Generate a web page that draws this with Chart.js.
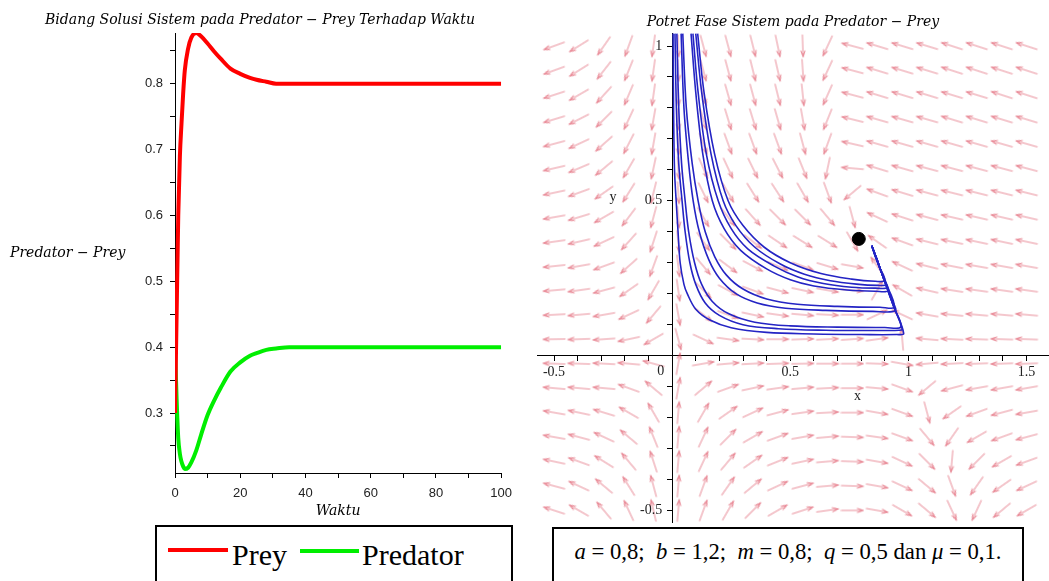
<!DOCTYPE html>
<html>
<head>
<meta charset="utf-8">
<script src="https://cdn.jsdelivr.net/npm/chart.js@4.4.1/dist/chart.umd.min.js"></script>
<style>
  body { margin: 0; background: #fff; width: 1049px; height: 581px; overflow: hidden; position: relative; }
  #leftBox { position: absolute; left: 0; top: 0; width: 520px; height: 520px; }
  #rightBox { position: absolute; left: 520px; top: 0; width: 536px; height: 530px; }
  .box { position: absolute; border: 2px solid #000; background: #fff; }
  #legendBox { left: 155px; top: 525px; width: 354px; height: 70px; }
  #paramBox { left: 552px; top: 527px; width: 468px; height: 70px; }
  .swatch { position: absolute; height: 4px; }
  .lab { position: absolute; font-family: "Liberation Serif", serif; font-size: 30px; line-height: 30px; color: #000; }
  #params { position: absolute; left: 0; right: 0; top: 10px; text-align: center; font-family: "Liberation Serif", serif; font-size: 22.7px; color: #000; white-space: nowrap; }
  #params i { font-style: italic; }
</style>
</head>
<body>
<div id="leftBox"><canvas id="solChart" width="520" height="520"></canvas></div>
<div id="rightBox"><canvas id="phaseChart" width="536" height="530"></canvas></div>
<div id="legendBox" class="box">
  <span class="swatch" style="left:11px;top:21px;width:60px;background:#ff0000"></span>
  <span class="lab" style="left:75px;top:13px">Prey</span>
  <span class="swatch" style="left:143px;top:22px;width:59px;background:#00ee00"></span>
  <span class="lab" style="left:205px;top:13px">Predator</span>
</div>
<div id="paramBox" class="box">
  <div id="params"><i>a</i> = 0,8; &nbsp;<i>b</i> = 1,2; &nbsp;<i>m</i> = 0,8; &nbsp;<i>q</i> = 0,5 dan <i>μ</i> = 0,1.</div>
</div>
<script>
// ---- time series (left) ----
const timeValues = [0, 0.5, 1, 1.5, 2, 2.5, 3, 4, 5, 6.5, 8, 10, 12, 14, 17, 20, 23, 25, 28, 31, 35, 40, 60, 80, 100];
const preyValues = [0.3, 0.45, 0.6, 0.69, 0.74, 0.785, 0.82, 0.853, 0.87, 0.877, 0.872, 0.861, 0.849, 0.838, 0.823, 0.815, 0.809, 0.806, 0.803, 0.8, 0.8, 0.8, 0.8, 0.8, 0.8];
const predatorValues = [0.4, 0.321, 0.262, 0.238, 0.226, 0.219, 0.215, 0.217, 0.225, 0.243, 0.267, 0.297, 0.319, 0.338, 0.363, 0.377, 0.387, 0.391, 0.396, 0.398, 0.4, 0.4, 0.4, 0.4, 0.4];
const timeTicks = [0, 10, 20, 30, 40, 50, 60, 70, 80, 90, 100];
const timeLabels = ['0', '', '20', '', '40', '', '60', '', '80', '', '100'];
const solTicks = [0.25, 0.3, 0.35, 0.4, 0.45, 0.5, 0.55, 0.6, 0.65, 0.7, 0.75, 0.8, 0.85];
const solLabels = ['', '0.3', '', '0.4', '', '0.5', '', '0.6', '', '0.7', '', '0.8', ''];
const leftTitle = 'Bidang Solusi Sistem pada Predator \u2212 Prey Terhadap Waktu';

// ---- phase portrait (right) ----
const phaseXTicks = [-0.5, -0.4, -0.3, -0.2, -0.1, 0, 0.1, 0.2, 0.3, 0.4, 0.5, 0.6, 0.7, 0.8, 0.9, 1, 1.1, 1.2, 1.3, 1.4, 1.5];
const phaseXLabels = ['-0.5', '', '', '', '', '', '', '', '', '', '0.5', '', '', '', '', '1', '', '', '', '', '1.5'];
const phaseYTicks = [-0.5, -0.4, -0.3, -0.2, -0.1, 0, 0.1, 0.2, 0.3, 0.4, 0.5, 0.6, 0.7, 0.8, 0.9, 1];
const phaseYLabels = ['-0.5', '', '', '', '', '', '', '', '', '', '0.5', '', '', '', '', '1'];
const rightTitle = 'Potret Fase Sistem pada Predator \u2212 Prey';

const fieldX = [-0.5, -0.395, -0.289, -0.184, -0.079, 0.026, 0.132, 0.237, 0.342, 0.447, 0.553, 0.658, 0.763, 0.868, 0.974, 1.079, 1.184, 1.289, 1.395, 1.5];
const fieldY = [1.0, 0.921, 0.842, 0.763, 0.684, 0.605, 0.526, 0.447, 0.368, 0.289, 0.211, 0.132, 0.053, -0.026, -0.105, -0.184, -0.263, -0.342, -0.421, -0.5];
// arrow direction in degrees (0 = right, 90 = up), one row per fieldY value
const fieldAngles = [
  [200,212,235,250,262,272,285,285,284,282,272,245,165,163,163,163,162,162,162,162],
  [200,212,232,248,262,272,285,285,284,283,274,245,165,163,163,163,162,162,162,162],
  [198,210,228,247,262,272,286,286,285,284,276,246,165,163,163,163,163,163,162,162],
  [197,207,225,245,260,272,287,287,287,286,280,248,166,164,164,164,163,163,163,163],
  [195,205,222,243,260,273,290,290,290,290,285,250,167,164,164,164,164,164,164,164],
  [193,203,220,240,258,273,293,295,296,297,292,258,175,163,164,165,165,165,165,165],
  [192,200,215,238,256,274,296,300,302,303,300,290,220,160,163,165,166,166,166,166],
  [190,197,210,233,255,275,300,307,312,315,315,310,285,155,162,165,167,167,167,167],
  [188,193,205,228,252,276,305,315,322,326,328,328,300,145,160,166,168,168,168,168],
  [186,190,200,222,250,277,310,323,332,337,340,343,350,125,155,166,169,170,170,170],
  [185,188,195,215,240,278,315,332,340,345,348,350,355,60,150,167,171,172,172,172],
  [183,185,190,205,230,280,322,340,348,352,355,357,0,25,155,170,174,175,175,175],
  [181,182,184,192,210,285,335,352,357,0,2,3,4,8,95,175,177,178,178,178],
  [178,178,177,175,165,80,10,5,3,2,1,0,0,358,350,185,183,182,182,182],
  [175,175,175,160,140,80,40,20,12,8,5,3,0,355,340,220,195,190,190,190],
  [170,168,163,150,120,85,60,35,25,15,8,3,0,350,340,285,215,200,195,190],
  [170,165,155,140,112,85,65,45,30,20,10,5,358,352,340,310,235,210,200,195],
  [168,160,148,130,108,85,65,50,35,22,12,5,358,350,335,315,265,225,210,200],
  [165,155,140,122,105,85,70,55,40,25,15,5,358,350,335,320,290,235,215,205],
  [162,150,130,115,103,85,70,60,45,30,18,8,0,350,330,320,295,245,220,210]
];

// solution curves, [x, y]
const orbitA = [[0.004,1.04],[0.006,0.8],[0.01,0.6],[0.017,0.5],[0.025,0.4],[0.034,0.3],[0.05,0.23],[0.064,0.2],[0.1,0.15],[0.16,0.115],[0.25,0.09],[0.4,0.075],[0.6,0.07],[0.8,0.068],[0.95,0.068],[0.98,0.072],[0.937,0.16],[0.895,0.25],[0.867,0.31],[0.845,0.355]];
const orbitB = [[0.012,1.04],[0.018,0.8],[0.028,0.62],[0.042,0.5],[0.055,0.4],[0.075,0.3],[0.1,0.23],[0.14,0.17],[0.2,0.13],[0.3,0.1],[0.45,0.087],[0.65,0.082],[0.85,0.081],[0.96,0.082],[0.974,0.085],[0.937,0.16],[0.895,0.25],[0.867,0.31],[0.845,0.355]];
const orbitC = [[0.02,1.04],[0.028,0.8],[0.04,0.62],[0.055,0.5],[0.07,0.4],[0.095,0.3],[0.125,0.23],[0.17,0.175],[0.24,0.135],[0.35,0.108],[0.5,0.096],[0.7,0.092],[0.9,0.091],[0.968,0.093],[0.937,0.16],[0.895,0.25],[0.867,0.31],[0.845,0.355]];
const orbitD = [[0.038,1.04],[0.05,0.8],[0.07,0.62],[0.089,0.5],[0.115,0.4],[0.155,0.31],[0.2,0.25],[0.27,0.2],[0.36,0.17],[0.48,0.153],[0.65,0.146],[0.85,0.143],[0.945,0.145],[0.93,0.18],[0.895,0.25],[0.867,0.31],[0.845,0.355]];
const orbitE = [[0.045,1.04],[0.06,0.8],[0.085,0.62],[0.11,0.5],[0.14,0.4],[0.18,0.32],[0.23,0.26],[0.3,0.215],[0.4,0.183],[0.53,0.166],[0.7,0.159],[0.88,0.156],[0.94,0.158],[0.895,0.25],[0.867,0.31],[0.845,0.355]];
const orbitF = [[0.08,1.04],[0.1,0.85],[0.13,0.65],[0.17,0.5],[0.22,0.41],[0.29,0.34],[0.4,0.28],[0.5,0.245],[0.6,0.225],[0.74,0.212],[0.86,0.208],[0.915,0.21],[0.895,0.25],[0.867,0.31],[0.845,0.355]];
const orbitG = [[0.088,1.04],[0.11,0.85],[0.145,0.65],[0.195,0.5],[0.25,0.41],[0.32,0.345],[0.43,0.29],[0.53,0.255],[0.64,0.233],[0.76,0.221],[0.86,0.218],[0.91,0.22],[0.895,0.25],[0.867,0.31],[0.845,0.355]];
const orbitH = [[0.1,1.04],[0.125,0.85],[0.165,0.65],[0.216,0.5],[0.27,0.42],[0.35,0.35],[0.46,0.295],[0.56,0.263],[0.67,0.242],[0.78,0.231],[0.87,0.227],[0.905,0.23],[0.88,0.28],[0.86,0.32],[0.845,0.355]];
const orbitI = [[0.108,1.04],[0.135,0.85],[0.18,0.65],[0.237,0.5],[0.3,0.42],[0.39,0.35],[0.5,0.3],[0.63,0.265],[0.76,0.247],[0.86,0.24],[0.9,0.243],[0.875,0.29],[0.86,0.32],[0.845,0.355]];
const orbits = [orbitA, orbitB, orbitC, orbitD, orbitE, orbitF, orbitG, orbitH, orbitI];
const restPoint = [0.79, 0.377];

function makeArrow() {
  const c = document.createElement('canvas');
  c.width = 24;
  c.height = 10;
  const g = c.getContext('2d');
  g.strokeStyle = 'rgba(220,70,90,0.6)';
  g.lineWidth = 1.2;
  g.lineCap = 'round';
  g.beginPath();
  g.moveTo(1, 5); g.lineTo(23, 5);
  g.moveTo(23, 5); g.lineTo(17, 3);
  g.moveTo(23, 5); g.lineTo(17, 7);
  g.stroke();
  return c;
}

const leftText = {
  id: 'leftText',
  afterDraw(chart) {
    const { ctx, chartArea } = chart;
    ctx.save();
    ctx.fillStyle = '#000';
    ctx.font = 'italic 14px "DejaVu Serif"';
    ctx.textAlign = 'center';
    ctx.textBaseline = 'middle';
    ctx.fillText(leftTitle, chart.width / 2, 20);
    ctx.fillText('Waktu', (chartArea.left + chartArea.right) / 2, chartArea.bottom + 38);
    ctx.textAlign = 'left';
    ctx.fillText('Predator \u2212 Prey', 10, (chartArea.top + chartArea.bottom) / 2);
    ctx.restore();
  }
};

new Chart(document.getElementById('solChart'), {
  type: 'line',
  data: {
    datasets: [
      { label: 'Prey', data: timeValues.map((t, i) => ({ x: t, y: preyValues[i] })), borderColor: '#ff0000', borderWidth: 4, pointRadius: 0, cubicInterpolationMode: 'monotone' },
      { label: 'Predator', data: timeValues.map((t, i) => ({ x: t, y: predatorValues[i] })), borderColor: '#00ee00', borderWidth: 4, pointRadius: 0, cubicInterpolationMode: 'monotone' }
    ]
  },
  options: {
    responsive: false,
    animation: false,
    events: [],
    layout: { padding: { top: 33, right: 18, left: 0, bottom: 0 } },
    plugins: { legend: { display: false }, title: { display: false }, tooltip: { enabled: false } },
    scales: {
      x: {
        type: 'linear', min: 0, max: 100,
        afterBuildTicks: s => { s.ticks = timeTicks.map(v => ({ value: v })); },
        afterFit: s => { s.height = 47; },
        grid: { drawOnChartArea: false, tickLength: 5, color: '#000' },
        border: { color: '#000', width: 1 },
        ticks: { color: '#222', padding: 8, maxRotation: 0, autoSkip: false, font: { family: 'Liberation Sans', size: 13 },
                 callback: (v, i) => timeLabels[i] }
      },
      y: {
        type: 'linear', min: 0.209, max: 0.877,
        afterBuildTicks: s => { s.ticks = solTicks.map(v => ({ value: v })); },
        afterFit: s => { s.width = 175; },
        grid: { drawOnChartArea: false, tickLength: 5, color: '#000' },
        border: { color: '#000', width: 1 },
        ticks: { color: '#222', padding: 7, autoSkip: false, font: { family: 'Liberation Sans', size: 13 },
                 callback: (v, i) => solLabels[i] }
      }
    }
  },
  plugins: [leftText]
});

const rightText = {
  id: 'rightText',
  afterDraw(chart) {
    const { ctx } = chart;
    const xs = chart.scales.x, ys = chart.scales.y;
    const x0 = xs.getPixelForValue(0), y0 = ys.getPixelForValue(0);
    ctx.save();
    ctx.fillStyle = '#000';
    ctx.font = 'italic 14px "DejaVu Serif"';
    ctx.textAlign = 'center';
    ctx.textBaseline = 'middle';
    ctx.fillText(rightTitle, 273, 22);
    ctx.fillStyle = '#222';
    ctx.font = '14px "Liberation Serif"';
    ctx.textAlign = 'right';
    phaseYTicks.forEach((v, i) => {
      if (phaseYLabels[i]) ctx.fillText(phaseYLabels[i], x0 - 10, ys.getPixelForValue(v));
    });
    ctx.fillText('0', x0 - 8, y0 + 16);
    ctx.textAlign = 'center';
    ctx.fillText('x', xs.getPixelForValue(0.785), ys.getPixelForValue(-0.133));
    ctx.fillText('y', xs.getPixelForValue(-0.25), ys.getPixelForValue(0.51));
    ctx.restore();
  }
};

const arrowImg = makeArrow();
const fieldPoints = [];
const fieldRot = [];
fieldY.forEach((y, r) => {
  fieldX.forEach((x, c) => {
    fieldPoints.push({ x: x, y: y });
    fieldRot.push(-fieldAngles[r][c]);
  });
});

const phaseSets = [
  { data: [{ x: restPoint[0], y: restPoint[1] }], pointRadius: 6.5, backgroundColor: '#000', borderColor: '#000', order: 0 }
];
orbits.forEach(o => {
  phaseSets.push({ data: o.map(p => ({ x: p[0], y: p[1] })), showLine: true, pointRadius: 0,
                   borderColor: '#2424c4', borderWidth: 1.6, tension: 0.35, order: 1 });
});
phaseSets.push({ data: fieldPoints, pointStyle: arrowImg, pointRadius: 3, rotation: ctx => fieldRot[ctx.dataIndex], order: 2 });

new Chart(document.getElementById('phaseChart'), {
  type: 'scatter',
  data: { datasets: phaseSets },
  options: {
    responsive: false,
    animation: false,
    events: [],
    layout: { padding: { top: 33, right: 1, left: 17, bottom: 5 } },
    plugins: { legend: { display: false }, title: { display: false }, tooltip: { enabled: false } },
    scales: {
      x: {
        type: 'linear', min: -0.572, max: 1.593, position: { y: 0 },
        afterBuildTicks: s => { s.ticks = phaseXTicks.map(v => ({ value: v })); },
        grid: { drawOnChartArea: false, tickLength: 5, color: '#000' },
        border: { color: '#000', width: 1 },
        ticks: { color: '#222', padding: 3, maxRotation: 0, autoSkip: false, font: { family: 'Liberation Serif', size: 14 },
                 callback: (v, i) => phaseXLabels[i] }
      },
      y: {
        type: 'linear', min: -0.539, max: 1.042, position: { x: 0 },
        afterBuildTicks: s => { s.ticks = phaseYTicks.map(v => ({ value: v })); },
        grid: { drawOnChartArea: false, tickLength: 5, color: '#000' },
        border: { color: '#000', width: 1 },
        ticks: { display: false, autoSkip: false }
      }
    }
  },
  plugins: [rightText]
});
</script>
</body>
</html>
